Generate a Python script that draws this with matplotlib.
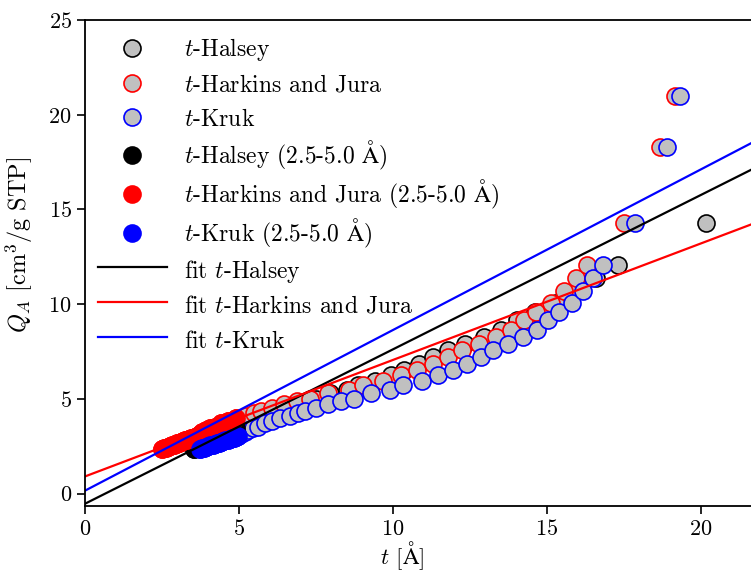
import matplotlib
matplotlib.use("Agg")
import numpy as np
import matplotlib.pyplot as plt

plt.rcParams["font.family"] = ["cmr10", "DejaVu Serif"]
plt.rcParams["mathtext.fontset"] = "cm"
plt.rcParams["axes.formatter.use_mathtext"] = True
plt.rcParams["font.size"] = 16

# adsorbed amount, shared by the three t-curves
Q_ads = [2.35, 2.39, 2.43, 2.47, 2.51, 2.55, 2.59, 2.62, 2.66, 2.70,
         2.73, 2.77, 2.81, 2.85, 2.88, 2.92, 2.96, 3.00, 3.04, 3.15,
         3.25, 3.37, 3.46, 3.54, 3.72, 3.86, 3.98, 4.10, 4.25, 4.39,
         4.51, 4.74, 4.89, 5.00, 5.30, 5.47, 5.74, 5.95, 6.26, 6.53,
         6.85, 7.20, 7.58, 7.90, 8.25, 8.63, 9.16, 9.60, 10.04, 10.70,
         11.40, 12.05, 14.30, 18.30, 21.00]

t_halsey = [3.53, 3.59, 3.65, 3.70, 3.76, 3.82, 3.87, 3.93, 3.98, 4.04,
            4.10, 4.15, 4.21, 4.26, 4.32, 4.37, 4.43, 4.48, 4.54, 4.62,
            4.70, 4.79, 4.91, 5.05, 5.21, 5.39, 5.60, 5.86, 6.06, 6.24,
            6.52, 6.84, 7.16, 7.51, 7.97, 8.50, 8.87, 9.41, 9.92, 10.37,
            10.85, 11.31, 11.77, 12.33, 12.94, 13.52, 14.04, 14.61, 15.28, 15.95,
            16.58, 17.31, 20.16, 25.0, 28.7]

t_hj = [2.51, 2.57, 2.63, 2.69, 2.75, 2.81, 2.88, 2.94, 3.00, 3.06,
        3.12, 3.18, 3.25, 3.31, 3.37, 3.44, 3.50, 3.56, 3.62, 3.72,
        3.81, 3.92, 4.07, 4.23, 4.43, 4.64, 4.90, 5.22, 5.48, 5.70,
        6.06, 6.46, 6.87, 7.32, 7.90, 8.56, 9.02, 9.67, 10.26, 10.77,
        11.29, 11.79, 12.25, 12.79, 13.34, 13.83, 14.26, 14.65, 15.12, 15.56,
        15.93, 16.31, 17.49, 18.67, 19.17]

t_kruk = [3.72, 3.79, 3.86, 3.93, 4.00, 4.07, 4.14, 4.21, 4.28, 4.35,
          4.42, 4.49, 4.56, 4.63, 4.70, 4.77, 4.84, 4.91, 4.98, 5.08,
          5.18, 5.30, 5.46, 5.63, 5.84, 6.06, 6.33, 6.66, 6.92, 7.14,
          7.50, 7.90, 8.30, 8.73, 9.28, 9.90, 10.33, 10.93, 11.47, 11.94,
          12.40, 12.85, 13.26, 13.74, 14.23, 14.66, 15.04, 15.39, 15.80, 16.18,
          16.50, 16.83, 17.86, 18.90, 19.33]

names = ["Halsey", "Harkins and Jura", "Kruk"]
colors = ["black", "red", "blue"]
fit_slopes = [0.815, 0.615, 0.848]
fit_intercepts = [-0.53, 0.91, 0.16]

Q = np.array(Q_ads)
series = [np.array(t_halsey), np.array(t_hj), np.array(t_kruk)]
ang = r"$\mathrm{\AA}$"

fig = plt.figure(figsize=(7.51, 5.75), dpi=100)
ax = fig.add_axes([0.1132, 0.12, 0.9228, 0.8452])

for t, name, col in zip(series, names, colors):
    ax.scatter(t, Q, s=150, c="silver", edgecolors=col, linewidths=1.2,
               label=f"$t$-{name}")

for t, name, col in zip(series, names, colors):
    sel = (t >= 2.5) & (t <= 5.0)
    ax.scatter(t[sel], Q[sel], s=150, c=col, edgecolors=col, linewidths=1.2,
               label=f"$t$-{name} (2.5-5.0 {ang})")

xfit = np.array([0.0, 25.0])
for a, b, name, col in zip(fit_slopes, fit_intercepts, names, colors):
    ax.plot(xfit, a * xfit + b, color=col, lw=1.6, label=f"fit $t$-{name}")

ax.set_xlim(0, 22.5)
ax.set_ylim(-0.65, 25)
ax.set_xticks([0, 5, 10, 15, 20])
ax.set_yticks([0, 5, 10, 15, 20, 25])
ax.tick_params(direction="out", length=6, width=1.2)
for sp in ax.spines.values():
    sp.set_linewidth(1.3)

ax.set_xlabel(f"$t$ [{ang}]", fontsize=16.5)
ax.set_ylabel(r"$Q_A$ [cm$^3$/g STP]", fontsize=17.5)
ax.xaxis.set_label_coords(0.457, -0.068)
ax.yaxis.set_label_coords(-0.072, 0.537)

# tall handle boxes keep every legend row the same height
ax.legend(loc="upper left", frameon=False, handlelength=2.9, fontsize=17,
          handleheight=1.5, handletextpad=0.75, labelspacing=0.25,
          borderaxespad=0.0, borderpad=0.35, scatteryoffsets=[0.3],
          bbox_to_anchor=(0.007, 0.988))

fig.savefig("out.png", dpi=100)
